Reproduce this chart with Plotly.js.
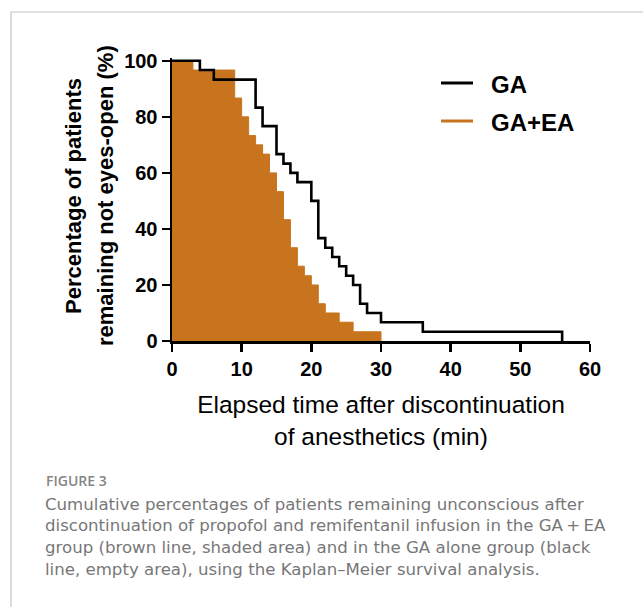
<!DOCTYPE html>
<html><head><meta charset="utf-8">
<script src="https://cdn.plot.ly/plotly-3.0.1.min.js"></script>
<style>html,body{margin:0;padding:0;background:#fff;} #chart{width:643px;height:607px;}</style>
</head><body><div id="chart"></div>
<script>
// Kaplan-Meier step data (time in min, % remaining not eyes-open)
const gaTime = [0,4,6,12,13,15,16,17,18,20,21,22,23,24,25,26,27,28,30,36,56];
const gaPct  = [100,96.7,93.3,83.3,76.7,66.7,63.3,60,56.7,50,36.7,33.3,30,26.7,23.3,20,13.3,10,6.7,3.3,0];
const eaTime = [0,3,9,10,11,12,13,14,15,16,17,18,19,20,21,22,24,26,30];
const eaPct  = [100,96.7,86.7,80,73.3,70,66.7,60,53.3,43.3,33.3,26.7,23.3,20,13.3,10,6.7,3.3,0];
const seriesNames = ['GA','GA+EA'];
const xTicks = [0,10,20,30,40,50,60];
const yTicks = [0,20,40,60,80,100];
const xTitle = 'Elapsed time after discontinuation<br>of anesthetics (min)';
const yTitleLines = ['Percentage of patients','remaining not eyes-open (%)'];
const captionTitle = 'FIGURE 3';
const captionLines = [
  'Cumulative percentages of patients remaining unconscious after',
  'discontinuation of propofol and remifentanil infusion in the GA\u2009+\u2009EA',
  'group (brown line, shaded area) and in the GA alone group (black',
  'line, empty area), using the Kaplan\u2013Meier survival analysis.'
];

const BROWN = '#C8741E';
const W = 643, H = 607;
const M = {l:172, r:53, t:58, b:266};
const pw = W - M.l - M.r, ph = H - M.t - M.b;
const px2x = p => (p - M.l) / pw;
const py2y = p => (H - M.b - p) / ph;

const traces = [
  {x: eaTime, y: eaPct, type:'scatter', mode:'lines', name: seriesNames[1],
   line:{shape:'hv', color:BROWN, width:1}, fill:'tozeroy', fillcolor:BROWN, showlegend:false, hoverinfo:'skip'},
  {x: gaTime, y: gaPct, type:'scatter', mode:'lines', name: seriesNames[0],
   line:{shape:'hv', color:'#000', width:2.6}, showlegend:false}
];

const legendColors = ['#000', BROWN];
const legendY = [83, 121];
const shapes = [
  {type:'path', xref:'paper', yref:'paper',
   path:`M${px2x(11)},${py2y(640)} L${px2x(11)},${py2y(12)} L${px2x(660)},${py2y(12)}`,
   line:{color:'#c4c4c4', width:1.2}}
];
const annotations = [];
seriesNames.forEach((n,i)=>{
  shapes.push({type:'line', xref:'paper', yref:'paper', x0:px2x(441), x1:px2x(473),
    y0:py2y(legendY[i]), y1:py2y(legendY[i]), line:{color:legendColors[i], width:3}});
  annotations.push({xref:'paper', yref:'paper', x:px2x(489), y:py2y(legendY[i]+1), xanchor:'left', yanchor:'middle',
    text:n, showarrow:false, font:{family:'Liberation Sans, Arial, sans-serif', size:24, weight:'bold', color:'#000'}});
});
yTitleLines.forEach((t,i)=>{
  annotations.push({xref:'paper', yref:'paper', x:px2x(i===0?73:105), y:py2y(196), xanchor:'center', yanchor:'middle',
    textangle:-90, text:t, showarrow:false, font:{family:'Liberation Sans, Arial, sans-serif', size:22, weight:'bold', color:'#000'}});
});
annotations.push({xref:'paper', yref:'paper', x:px2x(44), y:py2y(480), xanchor:'left', yanchor:'middle',
  text:captionTitle, showarrow:false, font:{family:'Open Sans', size:14, color:'#858585', weight:600}});
captionLines.forEach((t,i)=>{
  annotations.push({xref:'paper', yref:'paper', x:px2x(43), y:py2y(504 + i*21.9), xanchor:'left', yanchor:'middle',
    text:t, showarrow:false, font:{family:'DejaVu Sans', size:16.6, color:'#777777'}});
});

const layout = {
  width:W, height:H, margin:M, paper_bgcolor:'#fff', plot_bgcolor:'rgba(0,0,0,0)',
  font:{family:'Liberation Sans, Arial, sans-serif', color:'#000'},
  showlegend:false,
  xaxis:{range:[0,60], tickvals:xTicks, ticks:'outside', ticklen:8, tickwidth:2.5, tickcolor:'#000',
    showline:true, linewidth:2.5, linecolor:'#000', showgrid:false, zeroline:false,
    tickfont:{size:20, weight:'bold'},
    title:{text:xTitle, font:{size:24.5}, standoff:18}},
  yaxis:{range:[0,101], tickvals:yTicks, ticks:'outside', ticklen:8, tickwidth:2.5, tickcolor:'#000',
    showline:true, linewidth:2.5, linecolor:'#000', showgrid:false, zeroline:false,
    tickfont:{size:20, weight:'bold'}},
  shapes, annotations
};
Plotly.newPlot('chart', traces, layout, {displayModeBar:false, staticPlot:true});
</script></body></html>
